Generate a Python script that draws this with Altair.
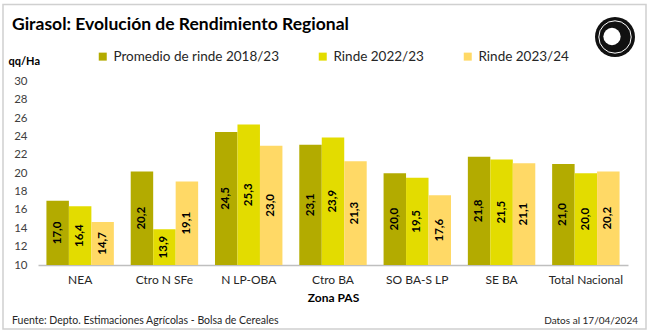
import altair as alt
import pandas as pd

regions = ["NEA", "Ctro N SFe", "N LP-OBA", "Ctro BA", "SO BA-S LP", "SE BA", "Total Nacional"]
series_names = ["Promedio de rinde 2018/23", "Rinde 2022/23", "Rinde 2023/24"]
promedio = [17.0, 20.2, 24.5, 23.1, 20.0, 21.8, 21.0]
rinde_2223 = [16.4, 13.9, 25.3, 23.9, 19.5, 21.5, 20.0]
rinde_2324 = [14.7, 19.1, 23.0, 21.3, 17.6, 21.1, 20.2]
colors = ["#B3AB00", "#E3DC00", "#FFD966"]
y_ticks = list(range(10, 31, 2))

rows = []
for s, vals in zip(series_names, [promedio, rinde_2223, rinde_2324]):
    for r, v in zip(regions, vals):
        rows.append({"zona": r, "serie": s, "valor": v})
df = pd.DataFrame(rows)
one = pd.DataFrame({"k": [0]})

FONT = "Lato"
W, H = 590, 183.5

x_axis = alt.Axis(title="Zona PAS", labelAngle=0, ticks=False, domainColor="#BFBFBF",
                  domainWidth=1.5, labelFont=FONT, labelFontSize=12, labelColor="#262626",
                  labelPadding=9, titleFont=FONT, titleFontSize=12, titleFontWeight="bold",
                  titleColor="#000000", titlePadding=7)
y_axis = alt.Axis(values=y_ticks, grid=False, ticks=False, domain=False, labelFont=FONT,
                  labelFontSize=11.5, labelColor="#404040", labelPadding=11,
                  labelOverlap=False, labelFlush=False,
                  title="qq/Ha", titleAngle=0, titleX=-30, titleY=-20, titleAlign="left",
                  titleBaseline="middle", titleFont=FONT, titleFontSize=11,
                  titleFontWeight="bold", titleColor="#000000")
x_scale = alt.Scale(paddingInner=0.2, paddingOuter=0.1)
y_scale = alt.Scale(domain=[10, 30], nice=False, zero=False)
xo_enc = alt.XOffset("serie:N", sort=series_names, scale=alt.Scale(domain=series_names))

bars = alt.Chart(df).mark_bar().encode(
    x=alt.X("zona:N", sort=regions, scale=x_scale, axis=x_axis),
    xOffset=xo_enc,
    y=alt.Y("valor:Q", scale=y_scale, axis=y_axis),
    y2=alt.datum(10),
    color=alt.Color("serie:N", sort=series_names,
                    scale=alt.Scale(domain=series_names, range=colors),
                    legend=alt.Legend(title=None, orient="none", legendX=58, legendY=-32,
                                      direction="horizontal", symbolType="square", symbolSize=64,
                                      symbolStrokeWidth=0, labelFont=FONT, labelFontSize=13.5,
                                      labelLimit=400, labelColor="#262626", columnPadding=37,
                                      labelOffset=4)),
)

labels = alt.Chart(df).transform_calculate(
    mid="(datum.valor + 10) / 2",
    txt="replace(format(datum.valor, '.1f'), '.', ',')",
).mark_text(angle=270, align="center", baseline="middle", font=FONT, fontSize=11.5,
            fontWeight="bold", color="#000000").encode(
    x=alt.X("zona:N", sort=regions, scale=x_scale, axis=x_axis),
    xOffset=xo_enc,
    y=alt.Y("mid:Q", scale=y_scale, axis=y_axis),
    text="txt:N",
)

frame = alt.Chart(one).mark_rect(fill=None, stroke="#D0D0D0", strokeWidth=1.5).encode(
    x=alt.value(-35), x2=alt.value(608), y=alt.value(-77), y2=alt.value(247.5))

title_txt = alt.Chart(one).mark_text(align="left", baseline="alphabetic", font=FONT, fontSize=17.5,
                                     fontWeight="bold", color="#000000").encode(
    x=alt.value(-26), y=alt.value(-51.5), text=alt.value("Girasol: Evolución de Rendimiento Regional"))

foot_left = alt.Chart(one).mark_text(align="left", baseline="middle", font=FONT, fontSize=10.5,
                                     color="#262626").encode(
    x=alt.value(-26), y=alt.value(239.5),
    text=alt.value("Fuente: Depto. Estimaciones Agrícolas - Bolsa de Cereales"))
foot_right = alt.Chart(one).mark_text(align="right", baseline="middle", font=FONT, fontSize=10,
                                      color="#262626").encode(
    x=alt.value(600), y=alt.value(239.5), text=alt.value("Datos al 17/04/2024"))

logo_outer = alt.Chart(one).mark_circle(color="#111111", opacity=1).encode(
    x=alt.value(577), y=alt.value(-44.5), size=alt.value(1600))
logo_ring = alt.Chart(one).mark_point(shape="circle", color="#FFFFFF", strokeWidth=1, opacity=1).encode(
    x=alt.value(577), y=alt.value(-44.5), size=alt.value(1050))
logo_inner = alt.Chart(one).mark_circle(color="#FFFFFF", opacity=1).encode(
    x=alt.value(574), y=alt.value(-45), size=alt.value(300))

chart = alt.layer(bars, labels, frame, title_txt, foot_left, foot_right,
                  logo_outer, logo_ring, logo_inner).properties(
    width=W, height=H,
    padding={"left": 38, "top": 81.5, "right": 22, "bottom": 69},
    autosize=alt.AutoSizeParams(type="none"),
    background="#FFFFFF",
).configure_view(stroke=None).configure_axisY(labelOverlap=False)

chart.save("out.html", embed_options={"renderer": "svg", "actions": False})
